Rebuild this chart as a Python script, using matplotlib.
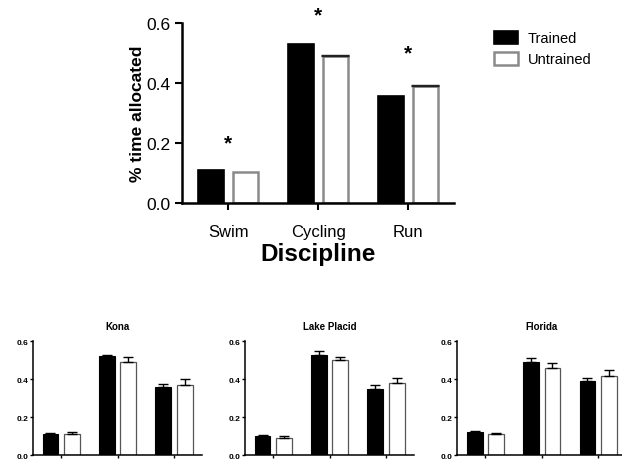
import numpy as np
import matplotlib
matplotlib.use('Agg')
import matplotlib.pyplot as plt

plt.rcParams['font.family'] = ['Liberation Sans', 'DejaVu Sans']

disciplines = ['Swim', 'Cycling', 'Run']

# pooled means (top panel)
all_trained = [0.11, 0.53, 0.357]
all_untrained = [0.105, 0.491, 0.391]
all_untrained_err = [0.0, 0.002, 0.002]
star_y = [0.2, 0.625, 0.5]

# per-race means and SEMs
races = ['Kona', 'Lake Placid', 'Florida']
race_trained = {
    'Kona': [0.109, 0.52, 0.36],
    'Lake Placid': [0.10, 0.528, 0.348],
    'Florida': [0.12, 0.489, 0.389],
}
race_trained_err = {
    'Kona': [0.005, 0.004, 0.012],
    'Lake Placid': [0.007, 0.018, 0.02],
    'Florida': [0.009, 0.02, 0.016],
}
race_untrained = {
    'Kona': [0.11, 0.49, 0.37],
    'Lake Placid': [0.09, 0.498, 0.377],
    'Florida': [0.11, 0.457, 0.418],
}
race_untrained_err = {
    'Kona': [0.012, 0.025, 0.03],
    'Lake Placid': [0.009, 0.02, 0.03],
    'Florida': [0.007, 0.027, 0.03],
}

w = 0.28
off = 0.19
x = np.arange(len(disciplines))

fig = plt.figure(figsize=(6.22, 4.77), dpi=100)

# ---- top panel
ax = fig.add_axes([0.293, 0.572, 0.437, 0.378])
ax.bar(x - off, all_trained, w, color='black', edgecolor='black', lw=1.2, label='Trained')
ax.bar(x + off, all_untrained, w, color='white', edgecolor='#8a8a8a', lw=1.8, label='Untrained')
# tiny SEM caps only visible on cycling and run
ue = np.array(all_untrained_err)
m = ue > 0
ax.errorbar((x + off)[m], np.array(all_untrained)[m], yerr=[np.zeros(m.sum()), ue[m]], fmt='none',
            ecolor='#222222', capsize=10, elinewidth=1)
for i, s in enumerate(star_y):
    ax.text(x[i], s, '*', ha='center', va='center', fontsize=15, fontweight='bold')
ax.set_xlim(-0.51, 2.51)
ax.set_ylim(0, 0.6)
ax.set_yticks([0.0, 0.2, 0.4, 0.6])
ax.set_yticklabels(['0.0', '0.2', '0.4', '0.6'])
ax.set_xticks(x)
ax.set_xticklabels(disciplines, fontsize=12)
ax.tick_params(axis='y', labelsize=12.5, width=1.5, length=5)
ax.tick_params(axis='x', width=1.5, length=5, pad=10)
for sp in ['top', 'right']:
    ax.spines[sp].set_visible(False)
for sp in ['left', 'bottom']:
    ax.spines[sp].set_linewidth(1.8)
ax.set_ylabel('% time allocated', fontsize=12.5, fontweight='bold', labelpad=1)
ax.set_xlabel('Discipline', fontsize=17.5, fontweight='bold', labelpad=2)
ax.legend(loc='upper left', bbox_to_anchor=(1.1, 1.03), frameon=False, fontsize=10.5,
          handlelength=1.6, handleheight=1.0, labelspacing=0.45, handletextpad=0.7)

# ---- bottom panels
lefts = [0.053, 0.394, 0.735]
for left, race in zip(lefts, races):
    a = fig.add_axes([left, 0.044, 0.272, 0.239])
    a.bar(x - off, race_trained[race], w, color='black', edgecolor='black', lw=0.8)
    a.bar(x + off, race_untrained[race], w, color='white', edgecolor='#555555', lw=0.9)
    a.errorbar(x - off, race_trained[race], yerr=[np.zeros(3), race_trained_err[race]],
               fmt='none', ecolor='black', capsize=3.5, elinewidth=1)
    a.errorbar(x + off, race_untrained[race], yerr=[np.zeros(3), race_untrained_err[race]],
               fmt='none', ecolor='black', capsize=3.5, elinewidth=1)
    a.set_xlim(-0.5, 2.5)
    a.set_ylim(0, 0.6)
    a.set_yticks([0.0, 0.2, 0.4, 0.6])
    a.set_yticklabels(['0.0', '0.2', '0.4', '0.6'], fontweight='bold')
    a.set_xticks(x)
    a.set_xticklabels([])
    a.tick_params(axis='y', labelsize=6, width=1, length=2.5, pad=1)
    a.tick_params(axis='x', width=1, length=2.5)
    for sp in ['top', 'right']:
        a.spines[sp].set_visible(False)
    for sp in ['left', 'bottom']:
        a.spines[sp].set_linewidth(1.1)
    a.set_title(race, fontsize=7, fontweight='bold', pad=9)

fig.savefig('out.png', dpi=100)
